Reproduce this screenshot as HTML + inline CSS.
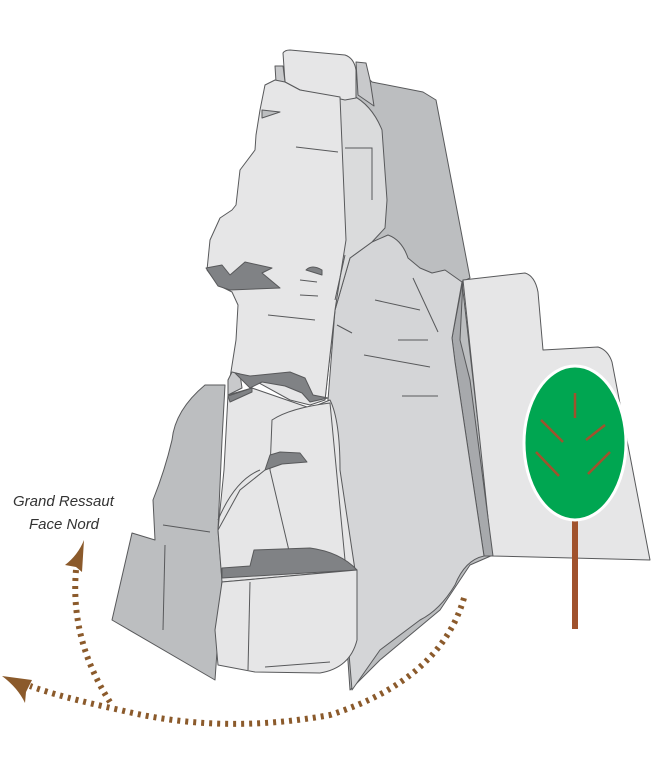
<!DOCTYPE html>
<html><head><meta charset="utf-8"><style>
html,body{margin:0;padding:0;background:#fff;width:656px;height:760px;overflow:hidden}
svg{display:block}
text{font-family:"Liberation Sans",sans-serif;font-style:italic;font-size:15px;fill:#333}
</style></head><body>
<svg width="656" height="760" viewBox="0 0 656 760" xmlns="http://www.w3.org/2000/svg">
<g stroke="#58595b" stroke-width="1" stroke-linejoin="round">
<path fill="#bcbec0" d="M352,80 L368,78 L372,82 L423,92 L436,100 L470,278 L462,282 L493,555 L470,565 L440,610 L380,660 L350,690 L330,400 L340,200 Z"/>
<path fill="#e6e6e7" d="M463,280 L525,273 Q535,276 538,292 L543,350 L598,347 Q608,350 612,362 L650,560 L492,556 Z"/>
<path fill="#a7a9ac" d="M463,280 L452,338 L455,362 L484,556 L493,556 L470,380 L460,340 Z"/>
<path fill="#d4d5d7" d="M372,242 L388,235 Q402,240 408,258 L420,268 L432,273 L445,270 L462,282 L452,338 L455,362 L484,556 Q465,560 455,585 Q440,610 420,620 L380,650 L352,690 L328,400 L335,310 L350,258 Z"/>
<path fill="#dadbdc" d="M340,97 L352,95 Q372,105 382,130 L387,200 L385,228 L372,242 L350,258 L335,310 L325,400 L318,400 L335,300 Z"/>
<path fill="#e6e6e7" d="M283,53 Q285,50 290,50 L345,55 Q354,58 356,70 L356,98 L345,100 L300,90 L285,82 Z"/>
<path fill="#c8c9cb" d="M275,66 L283,66 L285,82 L276,82 Z"/>
<path fill="#c8c9cb" d="M356,62 L366,63 L370,80 L374,106 L358,95 Z"/>
<path fill="#e6e6e7" d="M265,85 L275,80 L285,82 L300,90 L340,97 L346,240 L335,310 L325,400 L310,405 L290,400 L250,378 L230,378 L236,340 L238,305 L232,292 L218,285 L207,270 L210,240 L220,218 L232,210 L236,205 L240,170 L255,150 L256,135 L260,110 Z"/>
<path fill="#bcbec0" d="M262,110 L280,112 L262,118 Z"/>
<path fill="#bcbec0" d="M225,385 L205,385 Q175,410 172,440 Q165,470 153,500 L155,540 L132,533 L112,620 L215,680 L222,580 L218,530 L222,440 Z"/>
<path fill="#c8c9cb" d="M228,380 L232,372 L240,374 L242,388 L228,395 Z"/>
<path fill="#e6e6e7" d="M228,395 L252,388 L310,408 L330,400 Q340,420 340,470 L355,570 L222,582 L218,530 L224,470 Z"/>
<path fill="#e6e6e7" d="M272,420 Q290,408 330,403 L345,560 L290,555 L270,470 Z"/>
<path fill="#808285" d="M206,268 L222,265 L230,275 L245,262 L272,268 L262,273 L280,288 L230,290 L218,286 Z"/>
<path fill="#808285" d="M306,270 Q312,264 322,270 L322,275 Z"/>
<path fill="#808285" d="M235,373 L250,376 L290,372 L305,378 L313,395 L328,398 L310,402 L302,393 L285,386 L262,382 L250,388 Z"/>
<path fill="#808285" d="M228,396 L252,388 L252,392 L230,402 Z"/>
<path fill="#808285" d="M270,455 L280,452 L300,453 L307,462 L282,464 L265,470 Z"/>
<path fill="#808285" d="M222,578 L222,568 L250,566 L254,550 L310,548 Q340,552 357,570 Z"/>
<path fill="#e6e6e7" d="M222,582 L357,570 L357,640 Q350,668 320,673 L255,672 L218,665 L215,630 Z"/>
</g>
<g stroke="#58595b" stroke-width="1" fill="none">
<path d="M250,582 L248,670"/><path d="M265,667 L330,662"/>
<path d="M163,525 L210,532"/><path d="M165,545 L163,630"/>
<path d="M218,530 L240,490 L265,470"/><path d="M218,520 Q235,480 260,470"/>
<path d="M296,147 L338,152 M345,148 L372,148 L372,200"/>
<path d="M300,280 L317,282 M300,295 L318,296 M268,315 L315,320"/>
<path d="M345,255 L335,300 M337,325 L352,333"/>
<path d="M375,300 L420,310 M413,278 L438,332 M398,340 L428,340 M364,355 L430,367 M402,396 L438,396"/>
</g>
<rect x="572" y="516" width="6" height="113" fill="#a0522d"/>
<ellipse cx="575" cy="443" rx="51" ry="77" fill="#00a651" stroke="#fff" stroke-width="3"/>
<g stroke="#a0522d" stroke-width="2.5">
<path d="M575,393 L575,418 M541,420 L563,442 M605,425 L586,440 M536,452 L559,476 M610,452 L588,474"/>
</g>
<g stroke="#8b5a2b" stroke-width="6" fill="none" stroke-dasharray="3 5">
<path d="M464,598 Q440,680 330,715 Q220,735 120,710 Q60,697 30,686"/>
<path d="M76,570 Q70,640 110,702"/>
</g>
<path fill="#8b5a2b" d="M2,676 L32,680 L26,692 L25,703 Q18,688 2,676 Z"/>
<path fill="#8b5a2b" d="M84,540 L82,572 L76,567 L65,565 Q78,555 84,540 Z"/>
<text x="13" y="506">Grand Ressaut</text>
<text x="29" y="529">Face Nord</text>
</svg>
</body></html>
